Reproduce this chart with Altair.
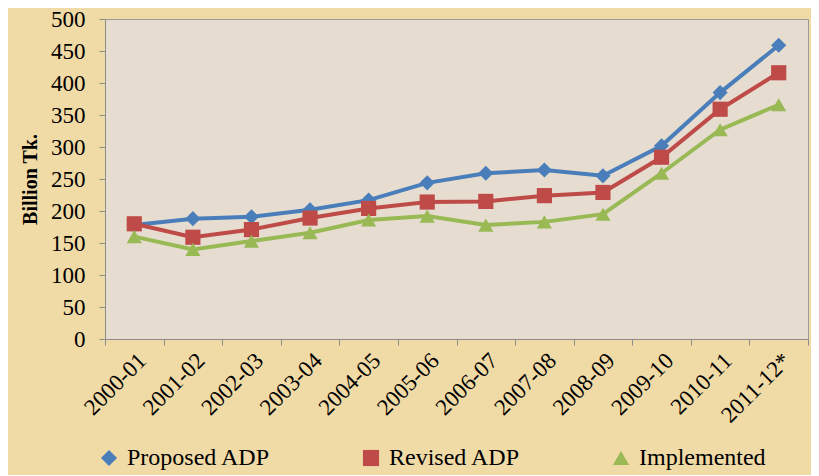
import altair as alt
import pandas as pd

years = ["2000-01", "2001-02", "2002-03", "2003-04", "2004-05", "2005-06",
         "2006-07", "2007-08", "2008-09", "2009-10", "2010-11", "2011-12*"]
series_names = ["Proposed ADP", "Revised ADP", "Implemented"]
proposed = [178, 188, 191, 202, 217, 244, 259, 264, 255, 302, 385, 459]
revised = [180, 159, 171, 189, 204, 214, 215, 224, 229, 284, 359, 416]
implemented = [160, 140, 153, 166, 186, 192, 178, 183, 195, 259, 327, 366]
y_ticks = [0, 50, 100, 150, 200, 250, 300, 350, 400, 450, 500]

colors = ["#4a7ebb", "#be4b48", "#98b954"]
shapes = ["diamond", "square", "triangle-up"]

rows = []
for name, vals in zip(series_names, [proposed, revised, implemented]):
    for yr, v in zip(years, vals):
        rows.append({"Year": yr, "Series": name, "Value": v})
df = pd.DataFrame(rows)

FONT = "Liberation Serif"

legend = alt.Legend(
    title=None, orient="none", legendX=-8, legendY=427, direction="horizontal",
    labelFont=FONT, labelFontSize=24, labelColor="black", columnPadding=88,
    symbolSize=260, symbolStrokeWidth=0, labelOffset=6,
)

x = alt.X(
    "Year:N", sort=years,
    scale=alt.Scale(type="band", paddingInner=0, paddingOuter=0),
    axis=alt.Axis(
        title=None, labelAngle=-45, tickBand="extent", labelFont=FONT,
        labelFontSize=23, labelColor="black", domainColor="#8c8c8c",
        tickColor="#8c8c8c", tickSize=6, labelPadding=4, grid=False,
    ),
)
y = alt.Y(
    "Value:Q",
    scale=alt.Scale(domain=[0, 500], nice=False),
    axis=alt.Axis(
        title="Billion Tk.", values=y_ticks, labelFont=FONT, labelFontSize=23,
        labelColor="black", titleFont=FONT, titleFontSize=20,
        titleFontWeight="bold", titleColor="black", titlePadding=10,
        domainColor="#8c8c8c", tickColor="#8c8c8c", tickSize=6,
        labelPadding=14, grid=False,
    ),
)
color = alt.Color("Series:N", sort=series_names,
                  scale=alt.Scale(domain=series_names, range=colors), legend=legend)
shape = alt.Shape("Series:N", sort=series_names,
                  scale=alt.Scale(domain=series_names, range=shapes), legend=legend)

base = alt.Chart(df)
lines = base.mark_line(strokeWidth=4).encode(x=x, y=y, color=color, detail="Series:N")
points = base.mark_point(filled=True, size=230, opacity=1).encode(
    x=x, y=y, color=color, shape=shape
)

chart = alt.layer(lines, points).properties(
    width=703, height=320,
    autosize=alt.AutoSizeParams(type="none"),
    padding={"left": 97, "top": 11, "right": 3, "bottom": 136},
    background="#f0daa6",
).configure_view(
    fill="#e6ddd0", stroke="#9a9a9a", strokeWidth=1
)

chart.save("out.html", embed_options={"renderer": "svg", "actions": False})
